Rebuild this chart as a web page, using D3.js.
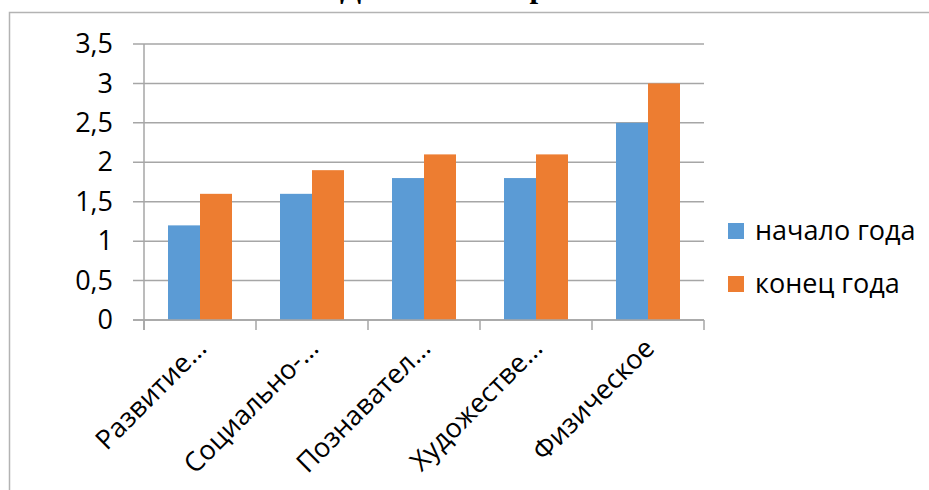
<!DOCTYPE html>
<html>
  <head>
    <meta charset='utf-8'>
    <script src='https://d3js.org/d3.v7.min.js'></script>
    <style>
body {
  margin: 0;
  overflow: hidden;
  background: #fff;
  font-family: 'Open Sans', sans-serif;
}
svg {
  display: block;
}
    </style>
  </head>
  <body>
    <div id='chart'></div>
    <script>
        // data
        const categories = ['Развитие…', 'Социально-…', 'Познавател…', 'Художестве…', 'Физическое'];
        const seriesNames = ['начало года', 'конец года'];
        const startValues = [1.2, 1.6, 1.8, 1.8, 2.5];
        const endValues = [1.6, 1.9, 2.1, 2.1, 3.0];
        const yTicks = [0, 0.5, 1, 1.5, 2, 2.5, 3, 3.5];
        const colors = ['#5b9bd5', '#ed7d31'];
        const title = 'Диагностика развития';

        const width = 929, height = 490;
        const plot = { left: 144, right: 704, top: 44, bottom: 320 };

        var svg = d3.select('#chart').append('svg')
            .attr('width', width)
            .attr('height', height);

        // chart border (right and bottom sides fall outside the page)
        svg.append('rect')
           .attr('x', 9.5)
           .attr('y', 12.5)
           .attr('width', 1000)
           .attr('height', 600)
           .style('fill', 'none')
           .style('stroke', '#b3b3b3')
           .style('stroke-width', 1.5);

        // title, mostly cut off by the top of the page
        svg.append('text')
           .attr('x', 340)
           .attr('y', -3)
           .style('font-family', "'Liberation Serif', 'Times New Roman', serif")
           .style('font-weight', 'bold')
           .style('font-size', '31px')
           .text(title);

        const y = d3.scaleLinear()
                    .domain([0, 3.5])
                    .range([plot.bottom, plot.top]);

        const x0 = d3.scaleBand()
                     .domain(categories)
                     .range([plot.left, plot.right]);

        const x1 = d3.scaleBand()
                     .domain(seriesNames)
                     .range([0, x0.bandwidth()])
                     .paddingInner(0)
                     .paddingOuter(0.75);

        // gridlines (with the small outer tick on the left)
        svg.append('g').selectAll('line')
           .data(yTicks)
           .enter().append('line')
           .attr('x1', plot.left - 11)
           .attr('x2', plot.right)
           .attr('y1', d => y(d))
           .attr('y2', d => y(d))
           .style('stroke', '#a6a6a6')
           .style('stroke-width', 1.5);

        // bars
        const rows = categories.map((c, i) => ({ cat: c, vals: [startValues[i], endValues[i]] }));
        var groups = svg.append('g').selectAll('g')
           .data(rows)
           .enter().append('g')
           .attr('transform', d => 'translate(' + x0(d.cat) + ',0)');

        groups.selectAll('rect')
           .data(d => d.vals.map((v, j) => ({ name: seriesNames[j], v: v, j: j })))
           .enter().append('rect')
           .attr('x', d => x1(d.name))
           .attr('y', d => y(d.v))
           .attr('width', x1.bandwidth())
           .attr('height', d => y(0) - y(d.v))
           .style('fill', d => colors[d.j]);

        // axes lines
        svg.append('line')
           .attr('x1', plot.left).attr('x2', plot.left)
           .attr('y1', plot.top).attr('y2', plot.bottom + 10)
           .style('stroke', '#a6a6a6').style('stroke-width', 1.5);

        svg.append('line')
           .attr('x1', plot.left - 11).attr('x2', plot.right)
           .attr('y1', plot.bottom).attr('y2', plot.bottom)
           .style('stroke', '#a6a6a6').style('stroke-width', 1.5);

        // category tick marks
        const catEdges = categories.map(c => x0(c)).concat([plot.right]);
        svg.append('g').selectAll('line')
           .data(catEdges)
           .enter().append('line')
           .attr('x1', d => d).attr('x2', d => d)
           .attr('y1', plot.bottom).attr('y2', plot.bottom + 10)
           .style('stroke', '#a6a6a6').style('stroke-width', 1.5);

        // y labels
        const yAxis = d3.axisLeft(y)
                        .tickValues(yTicks)
                        .tickSize(0)
                        .tickPadding(31)
                        .tickFormat(d => String(d).replace('.', ','));
        var yg = svg.append('g')
           .attr('transform', 'translate(' + plot.left + ',0)')
           .call(yAxis);
        yg.select('.domain').remove();
        yg.selectAll('text')
          .style('font-family', "'Open Sans', sans-serif")
          .style('font-size', '27px')
          .style('fill', '#000');

        // x labels, rotated
        svg.append('g').selectAll('text')
           .data(categories)
           .enter().append('text')
           .attr('transform', d => 'translate(' + (x0(d) + x0.bandwidth() / 2 + 8) + ',' + (plot.bottom + 30) + ') rotate(-45)')
           .attr('text-anchor', 'end')
           .style('font-size', '27px')
           .text(d => d);

        // legend
        var legend = svg.append('g').selectAll('g')
           .data(seriesNames)
           .enter().append('g')
           .attr('transform', (d, i) => 'translate(728,' + (223 + i * 53) + ')');

        legend.append('rect')
              .attr('width', 16)
              .attr('height', 16)
              .style('fill', (d, i) => colors[i]);

        legend.append('text')
              .attr('x', 27)
              .attr('y', 8)
              .attr('dy', '0.35em')
              .style('font-size', '27px')
              .text(d => d);
    </script>
  </body>
</html>
